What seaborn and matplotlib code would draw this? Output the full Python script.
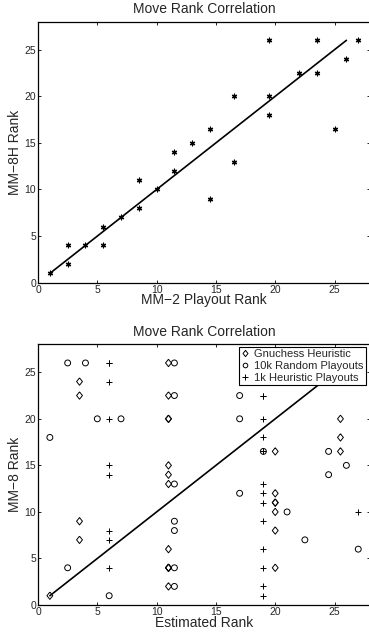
import numpy as np
import pandas as pd
import seaborn as sns
import matplotlib.pyplot as plt
from matplotlib.lines import Line2D

# top panel: MM-2 playout rank vs MM-8H rank
mm2_rank = [1, 2.5, 2.5, 4, 5.5, 5.5, 7, 8.5, 8.5, 10, 11.5, 11.5, 13, 14.5, 14.5,
            16.5, 16.5, 19.5, 19.5, 19.5, 22, 23.5, 23.5, 25, 26, 27]
mm8h_rank = [1, 2, 4, 4, 4, 6, 7, 8, 11, 10, 12, 14, 15, 9, 16.5,
             13, 20, 18, 20, 26, 22.5, 22.5, 26, 16.5, 24, 26]

# bottom panel: estimated rank vs MM-8 rank
gnu_x = [1, 3.5, 3.5, 3.5, 3.5, 11, 11, 11, 11, 11, 11, 11, 11, 11, 11, 11, 11,
         20, 20, 20, 20, 20, 20, 20, 25.5, 25.5, 25.5]
gnu_y = [1, 7, 9, 22.5, 24, 2, 4, 4, 6, 13, 14, 15, 20, 20, 22.5, 26, 4,
         4, 8, 10, 11, 11, 12, 16.5, 16.5, 18, 20]

rnd_x = [1, 2.5, 2.5, 4, 5, 6, 7, 11.5, 11.5, 11.5, 11.5, 11.5, 11.5, 11.5,
         17, 17, 17, 19, 21, 22.5, 24.5, 24.5, 26, 27]
rnd_y = [18, 4, 26, 26, 20, 1, 20, 2, 4, 8, 9, 13, 22.5, 26,
         12, 20, 22.5, 16.5, 10, 7, 14, 16.5, 15, 6]

heur_x = [6, 6, 6, 6, 6, 6, 6, 6, 6, 19, 19, 19, 19, 19, 19, 19, 19, 19, 19,
          19, 19, 19, 27]
heur_y = [4, 7, 8, 14, 15, 20, 24, 26, 26, 1, 2, 4, 6, 9, 11, 12, 13, 16.5, 18,
          20, 22.5, 22.5, 10]

diag_x = [1, 26]
diag_y = [1, 26]

ticks = [0, 5, 10, 15, 20, 25]

sns.set_style("ticks")
plt.rcParams["font.family"] = ["Liberation Sans", "DejaVu Sans"]
plt.rcParams["xtick.direction"] = "in"
plt.rcParams["ytick.direction"] = "in"

# matlab-like diamond, a bit wider than matplotlib's "d"
diamond = [(0, 1), (0.8, 0), (0, -1), (-0.8, 0), (0, 1)]

fig = plt.figure(figsize=(3.69, 6.36), dpi=100)
ax1 = fig.add_axes([0.103, 0.5555, 0.9, 0.4104])
ax2 = fig.add_axes([0.103, 0.0487, 0.9, 0.4099])


def style_axes(ax, xlabel, ylabel):
    ax.set_xlim(0, 28)
    ax.set_ylim(0, 28)
    ax.set_xticks(ticks)
    ax.set_yticks(ticks)
    ax.tick_params(axis="both", labelsize=7.5, length=2.5, width=0.6, color="k",
                   top=True, right=True, pad=1.5)
    for s in ax.spines.values():
        s.set_linewidth(0.9)
        s.set_color("k")
    ax.set_title("Move Rank Correlation", fontsize=10, pad=6)
    ax.set_xlabel(xlabel, fontsize=10, labelpad=-1)
    ax.set_ylabel(ylabel, fontsize=10, labelpad=2)


top_df = pd.DataFrame({"x": mm2_rank, "y": mm8h_rank})
sns.lineplot(x=diag_x, y=diag_y, ax=ax1, color="k", linewidth=1.2)
sns.scatterplot(data=top_df, x="x", y="y", ax=ax1, marker=(6, 2, 0), color="k",
                s=11, linewidth=0.9, zorder=3)
style_axes(ax1, "MM\u22122 Playout Rank", "MM\u22128H Rank")

sns.lineplot(x=diag_x, y=diag_y, ax=ax2, color="k", linewidth=1.2)
sns.scatterplot(x=gnu_x, y=gnu_y, ax=ax2, marker=diamond, s=28, facecolor="none",
                edgecolor="k", linewidth=0.7, zorder=3)
sns.scatterplot(x=rnd_x, y=rnd_y, ax=ax2, marker="o", s=18, facecolor="none",
                edgecolor="k", linewidth=0.7, zorder=3)
sns.scatterplot(x=heur_x, y=heur_y, ax=ax2, marker="+", s=20, color="k",
                linewidth=0.7, zorder=3)
style_axes(ax2, "Estimated Rank", "MM\u22128 Rank")

handles = [
    Line2D([], [], linestyle="none", marker=diamond, markersize=4.5, markerfacecolor="none",
           markeredgecolor="k", markeredgewidth=0.7),
    Line2D([], [], linestyle="none", marker="o", markersize=3.3, markerfacecolor="none",
           markeredgecolor="k", markeredgewidth=0.7),
    Line2D([], [], linestyle="none", marker="+", markersize=4, color="k",
           markeredgewidth=0.7),
]
labels = ["Gnuchess Heuristic", "10k Random Playouts", "1k Heuristic Playouts"]
leg = ax2.legend(handles, labels, loc="upper right", fontsize=8, frameon=True,
                 fancybox=False, framealpha=1, edgecolor="k", borderpad=0.2,
                 handlelength=0.8, handletextpad=0.4, labelspacing=0.15,
                 borderaxespad=0.25, bbox_to_anchor=(0.995, 1.0))
leg.get_frame().set_linewidth(0.8)
leg.set_zorder(5)

fig.savefig("out.png", dpi=100)
